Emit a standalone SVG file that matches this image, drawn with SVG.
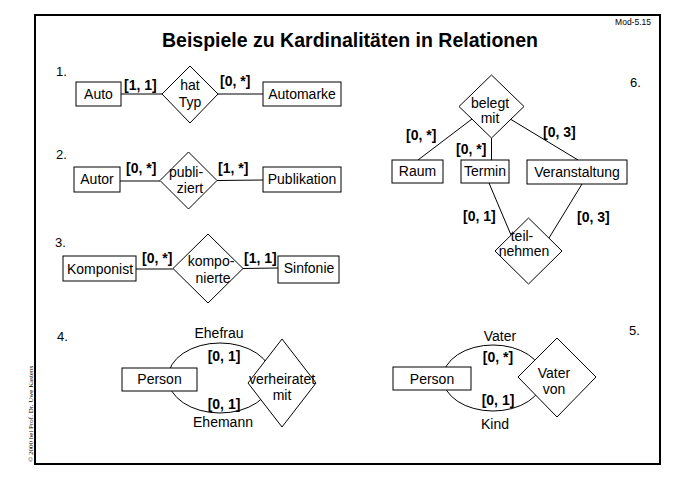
<svg xmlns="http://www.w3.org/2000/svg" width="678" height="480" viewBox="0 0 678 480">
<style>
text{font-family:"Liberation Sans",Arial,sans-serif;font-size:14px;fill:#000}
.c{text-anchor:middle}
.b{font-weight:bold}
.n{font-size:13px}
.e{fill:#fff;stroke:#000;stroke-width:1}
.l{fill:none;stroke:#000;stroke-width:1}
</style>
<rect width="678" height="480" fill="#fff"/>
<rect x="35" y="15" width="625" height="449" fill="none" stroke="#000" stroke-width="2"/>
<text x="651" y="25" text-anchor="end" style="font-size:8.5px">Mod-5.15</text>
<text x="350" y="47" class="c b" style="font-size:19.5px">Beispiele zu Kardinalitäten in Relationen</text>
<text transform="translate(33,462) rotate(-90)" style="font-family:'Liberation Serif',serif;font-size:7px">© 2000 bei Prof. Dr. Uwe Kastens</text>
<text x="56" y="76" class="n">1.</text>
<text x="56" y="159" class="n">2.</text>
<text x="55" y="247" class="n">3.</text>
<text x="57" y="341" class="n">4.</text>
<text x="629" y="335" class="n">5.</text>
<text x="630" y="87" class="n">6.</text>
<g id="connectors">
<line class="l" x1="121" y1="94" x2="162" y2="94"/>
<line class="l" x1="218" y1="94" x2="263" y2="94"/>
<line class="l" x1="120" y1="181" x2="160" y2="181"/>
<line class="l" x1="217" y1="180.5" x2="263" y2="180"/>
<line class="l" x1="136" y1="269" x2="173" y2="269"/>
<line class="l" x1="243" y1="268.5" x2="278" y2="268"/>
<line class="l" x1="472" y1="119" x2="418" y2="160"/>
<line class="l" x1="491.5" y1="138" x2="491.5" y2="160"/>
<line class="l" x1="511" y1="119.5" x2="578" y2="160"/>
<line class="l" x1="489" y1="183" x2="511" y2="235"/>
<line class="l" x1="582" y1="184" x2="549" y2="238"/>
<ellipse class="l" cx="220" cy="378" rx="52" ry="35"/>
<ellipse class="l" cx="493" cy="378" rx="50" ry="33"/>
</g>
<g id="labels">
<text x="124" y="90" class="b">[1, 1]</text>
<text x="220" y="86" class="b">[0, *]</text>
<text x="126" y="173" class="b">[0, *]</text>
<text x="218" y="173" class="b">[1, *]</text>
<text x="142" y="263" class="b">[0, *]</text>
<text x="244" y="263" class="b">[1, 1]</text>
<text x="406" y="140" class="b">[0, *]</text>
<text x="456" y="154" class="b">[0, *]</text>
<text x="543" y="137" class="b">[0, 3]</text>
<text x="463" y="221" class="b">[0, 1]</text>
<text x="577" y="222" class="b">[0, 3]</text>
<text x="219" y="338" class="c">Ehefrau</text>
<text x="224" y="361" class="c b">[0, 1]</text>
<text x="224" y="409" class="c b">[0, 1]</text>
<text x="223" y="427" class="c">Ehemann</text>
<text x="500" y="341" class="c">Vater</text>
<text x="498" y="362" class="c b">[0, *]</text>
<text x="498" y="405" class="c b">[0, 1]</text>
<text x="495" y="429" class="c">Kind</text>
</g>
<g id="auto"><rect class="e" x="76" y="82" width="45" height="24"/><text x="98.5" y="99" class="c">Auto</text></g>
<g id="hat-typ"><polygon class="e" points="190,66 218,94 190,123 162,94"/><text x="190" y="90" class="c">hat</text><text x="190" y="107" class="c">Typ</text></g>
<g id="automarke"><rect class="e" x="263" y="82" width="78" height="24"/><text x="302" y="99" class="c">Automarke</text></g>
<g id="autor"><rect class="e" x="74" y="167" width="46" height="25"/><text x="97" y="184" class="c">Autor</text></g>
<g id="publiziert"><polygon class="e" points="188.5,152 217,180.5 188.5,209 160,180.5"/><text x="186" y="177" class="c">publi-</text><text x="190" y="193" class="c">ziert</text></g>
<g id="publikation"><rect class="e" x="263" y="167" width="78" height="25"/><text x="302" y="184" class="c">Publikation</text></g>
<g id="komponist"><rect class="e" x="63" y="256" width="73" height="25"/><text x="100" y="274" class="c">Komponist</text></g>
<g id="komponierte"><polygon class="e" points="208,234 243,268.5 208,303 173,268.5"/><text x="211" y="266" class="c">kompo-</text><text x="213" y="283" class="c">nierte</text></g>
<g id="sinfonie"><rect class="e" x="278" y="256" width="61" height="27"/><text x="309" y="273" class="c">Sinfonie</text></g>
<g id="belegt-mit"><polygon class="e" points="491.5,75 524,106.5 491.5,138 459,106.5"/><text x="490" y="108" class="c">belegt</text><text x="490" y="123" class="c">mit</text></g>
<g id="raum"><rect class="e" x="392" y="160" width="51" height="23"/><text x="417.5" y="176" class="c">Raum</text></g>
<g id="termin"><rect class="e" x="461" y="160" width="48" height="23"/><text x="485" y="176" class="c">Termin</text></g>
<g id="veranstaltung"><rect class="e" x="527" y="160" width="100" height="24"/><text x="577" y="177" class="c">Veranstaltung</text></g>
<g id="teilnehmen"><polygon class="e" points="528.5,218 562,251 528.5,284 495,251"/><text x="522" y="241" class="c">teil-</text><text x="524" y="256" class="c">nehmen</text></g>
<g id="person4"><rect class="e" x="122" y="368" width="75" height="23"/><text x="159.5" y="384" class="c">Person</text></g>
<g id="verheiratet"><polygon class="e" points="282,339 316,383 282,427 248,383"/><text x="282" y="384" class="c">verheiratet</text><text x="282" y="400" class="c">mit</text></g>
<g id="person5"><rect class="e" x="393" y="367" width="78" height="23"/><text x="432" y="384" class="c">Person</text></g>
<g id="vater-von"><polygon class="e" points="557,338 596,377 557,417 518,377"/><text x="554" y="378" class="c">Vater</text><text x="554" y="394" class="c">von</text></g>
</svg>
